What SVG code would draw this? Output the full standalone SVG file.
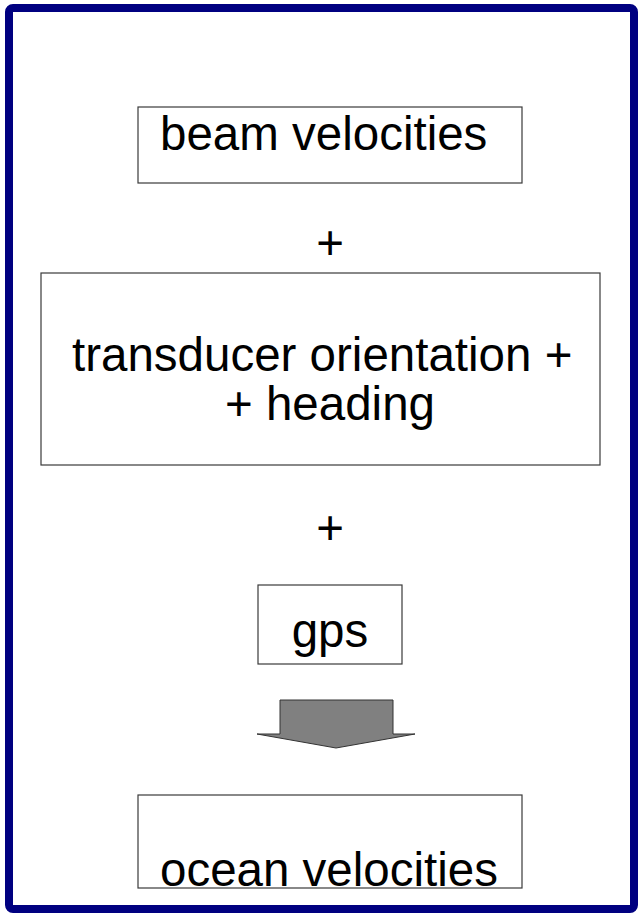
<svg xmlns="http://www.w3.org/2000/svg" width="642" height="916" viewBox="0 0 642 916">
<style>
.box{fill:#ffffff;stroke:#3a3a3a;stroke-width:1.2}
.t{font-family:"Liberation Sans",Arial,sans-serif;font-size:47.5px;fill:#000000}
</style>
<rect x="0" y="0" width="642" height="916" fill="#ffffff"/>
<rect id="frame" x="9" y="8" width="625" height="901" rx="4" fill="#ffffff" stroke="#000080" stroke-width="8"/>
<g id="beam">
<rect class="box" x="138" y="107" width="384" height="76"/>
<text class="t" x="160" y="150">beam velocities</text>
</g>
<g id="plus1">
<text class="t" x="330" y="259" text-anchor="middle">+</text>
</g>
<g id="transducer">
<rect class="box" x="41" y="273" width="559" height="192"/>
<text class="t" x="72" y="371">transducer orientation +</text>
<text class="t" x="225" y="420">+ heading</text>
</g>
<g id="plus2">
<text class="t" x="330" y="544" text-anchor="middle">+</text>
</g>
<g id="gps">
<rect class="box" x="258" y="585" width="144" height="79"/>
<text class="t" x="330" y="647" text-anchor="middle">gps</text>
</g>
<g id="connectors">
<polygon points="280,700 393,700 393,734 415,734 336,748 257,734 280,734" fill="#808080" stroke="#333333" stroke-width="1"/>
</g>
<g id="ocean">
<rect class="box" x="138" y="795" width="384" height="93"/>
<text class="t" x="160" y="886">ocean velocities</text>
</g>
</svg>
